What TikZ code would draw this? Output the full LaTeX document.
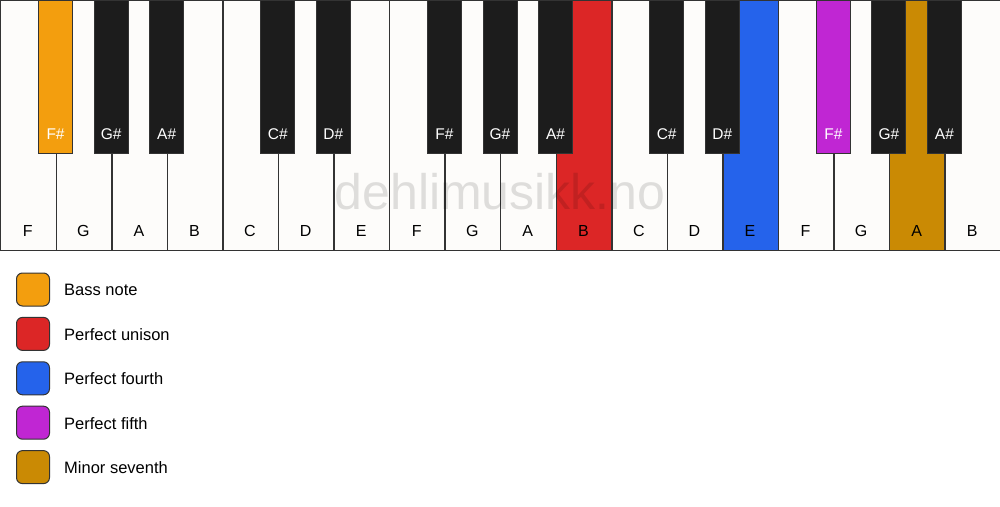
\documentclass[tikz,border=0pt]{standalone}
\usepackage{fontspec}
\setmainfont{Liberation Sans}
\definecolor{whitekey}{HTML}{FDFCFA}
\definecolor{blackkey}{HTML}{1C1C1C}
\definecolor{keyline}{HTML}{333333}
\definecolor{bassC}{HTML}{F39E0E}
\definecolor{unisonC}{HTML}{DC2626}
\definecolor{fourthC}{HTML}{2563EB}
\definecolor{fifthC}{HTML}{C026D3}
\definecolor{seventhC}{HTML}{CA8A04}
\tikzset{
  wkey/.style={draw=keyline, line width=1.4pt, fill=whitekey, minimum width=55.556pt, minimum height=250pt, anchor=north west, inner sep=0pt},
  bkey/.style={draw=keyline, line width=1pt, fill=blackkey, minimum width=34pt, minimum height=153pt, anchor=north, inner sep=0pt},
  wlabel/.style={font=\fontsize{16}{18}\selectfont, text=black, anchor=base},
  blabel/.style={font=\fontsize{15.5}{18}\selectfont, text=white, anchor=base},
  legbox/.style={draw=keyline, line width=1pt, rounded corners=6pt, minimum width=33pt, minimum height=33pt, inner sep=0pt},
  legtext/.style={font=\fontsize{16.5}{19}\selectfont, anchor=west, inner sep=0pt},
}
\begin{document}
\begin{tikzpicture}[x=1pt,y=-1pt]
\useasboundingbox[fill=white] (0,0) rectangle (1000,506);
% white keys
\foreach \n/\c [count=\i from 0] in {F/whitekey,G/whitekey,A/whitekey,B/whitekey,C/whitekey,D/whitekey,E/whitekey,F/whitekey,G/whitekey,A/whitekey,B/unisonC,C/whitekey,D/whitekey,E/fourthC,F/whitekey,G/whitekey,A/seventhC,B/whitekey}{
  \node[wkey, fill=\c] (w\i) at ({\i*55.556},0) {};
  \node[wlabel] (wl\i) at ({\i*55.556+27.778},236) {\n};
}
% watermark
\node[font=\fontsize{50}{56}\selectfont, text=black, opacity=0.12, anchor=base] (wm) at (500,209) {dehlimusikk.no};
% black keys
\foreach \b/\n/\c in {1/F/bassC,2/G/blackkey,3/A/blackkey,5/C/blackkey,6/D/blackkey,8/F/blackkey,9/G/blackkey,10/A/blackkey,12/C/blackkey,13/D/blackkey,15/F/fifthC,16/G/blackkey,17/A/blackkey}{
  \node[bkey, fill=\c] (b\b) at ({\b*55.556},0) {};
  \node[blabel] (bl\b) at ({\b*55.556},139) {\n\#};
}
% legend
\foreach \c/\t [count=\k from 0] in {bassC/Bass note,unisonC/Perfect unison,fourthC/Perfect fourth,fifthC/Perfect fifth,seventhC/Minor seventh}{
  \node[legbox, fill=\c] (lb\k) at (33,{289.5+\k*44.4}) {};
  \node[legtext] (lt\k) at (64,{290+\k*44.4}) {\t};
}
\end{tikzpicture}
\end{document}
